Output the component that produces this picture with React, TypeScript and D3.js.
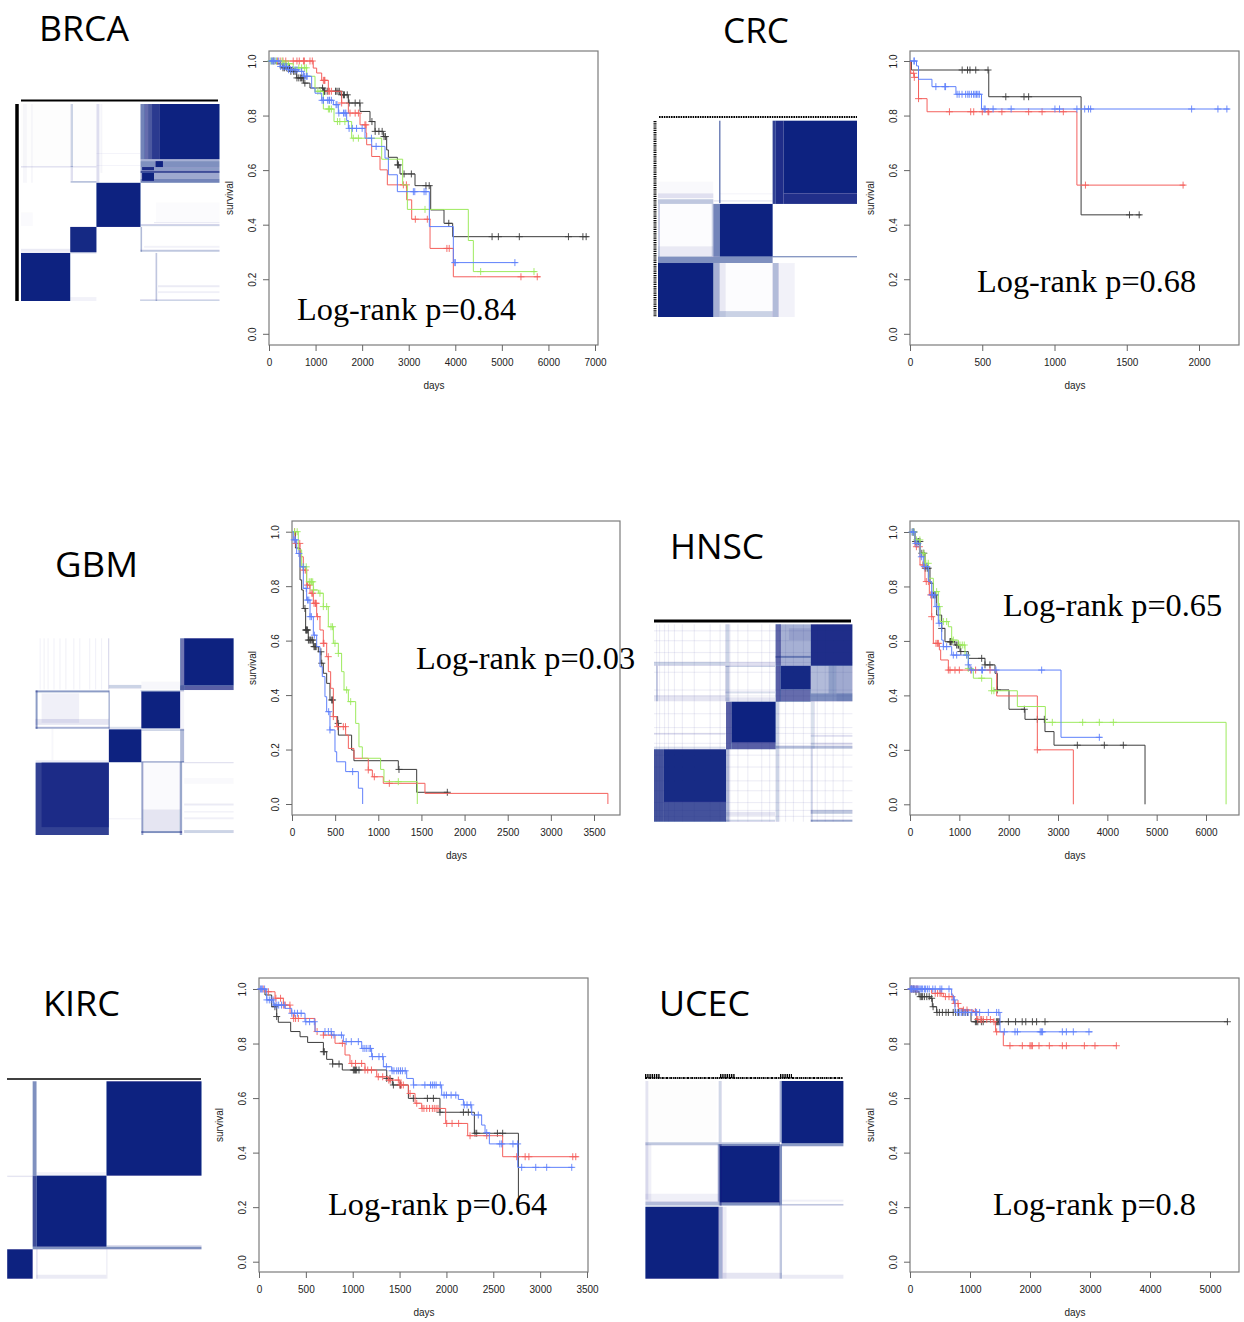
import React, { useEffect, useRef } from 'react';
import * as d3 from 'd3';

// survival curves: t = days at each step, s = survival after the step, c = censored days

const brcaBlackT = [0, 150, 300, 451, 594, 737, 880, 1167, 1525, 1704, 1954, 2169, 2276, 2455, 2527, 2563, 2756, 2813, 3135, 3472, 3758, 3944, 6864];
const brcaBlackS = [1, .99, .975, .962, .938, .919, .901, .889, .876, .846, .815, .778, .742, .723, .674, .647, .619, .586, .543, .454, .405, .356, .356];
const brcaBlackC = [250, 300, 330, 380, 420, 440, 470, 530, 560, 600, 640, 680, 700, 730, 770, 1150, 1170, 1190, 1200, 1250, 1430, 1440, 1480, 1510, 1560, 1600, 1620, 1680, 1720, 1850, 1950, 2210, 2280, 2360, 2430, 2470, 2500, 2760, 2780, 2900, 3057, 3370, 3440, 3860, 4790, 4925, 5375, 6430, 6740, 6810];
const brcaRedT = [0, 950, 1023, 1131, 1274, 1560, 1704, 1954, 2083, 2097, 2205, 2384, 2541, 2956, 3064, 3458, 3958, 4460, 5825];
const brcaRedS = [1, .974, .956, .929, .889, .846, .809, .766, .736, .693, .65, .601, .546, .491, .42, .313, .209, .209, .209];
const brcaRedC = [100, 180, 240, 300, 360, 520, 600, 650, 740, 760, 880, 930, 1167, 1190, 1200, 1274, 1300, 1340, 1560, 1740, 1850, 1920, 2060, 2080, 2885, 2950, 3142, 3400, 3820, 3870, 5410, 5760];
const brcaGreenT = [0, 300, 520, 809, 988, 1167, 1396, 1775, 2420, 2870, 2971, 4280, 4388, 5740];
const brcaGreenS = [1, .99, .975, .944, .889, .824, .778, .717, .64, .546, .456, .342, .228, .228];
const brcaGreenC = [40, 70, 110, 160, 280, 320, 340, 380, 420, 640, 700, 760, 800, 1050, 1100, 1275, 1300, 1340, 1470, 1520, 1630, 1810, 1920, 3350, 4545, 5690];
const brcaBlueT = [0, 236, 415, 630, 737, 916, 988, 1131, 1382, 1489, 1668, 1704, 2062, 2205, 2491, 2563, 2756, 3443, 3958, 5333];
const brcaBlueS = [1, .98, .968, .962, .944, .901, .882, .856, .84, .809, .782, .753, .717, .687, .644, .583, .521, .393, .261, .261];
const brcaBlueC = [50, 80, 100, 130, 200, 250, 300, 320, 360, 380, 420, 460, 500, 560, 600, 700, 760, 800, 820, 1140, 1170, 1260, 1290, 1300, 1340, 1440, 1460, 1500, 1600, 1630, 1650, 1720, 1790, 1880, 2000, 2200, 2300, 3100, 3130, 3330, 3370, 3990, 4000, 5280];

const crcBlackT = [0, 10, 545, 1184, 1601];
const crcBlackS = [1, .967, .869, .436, .436];
const crcBlackC = [361, 398, 415, 455, 540, 663, 789, 821, 1519, 1586];
const crcRedT = [0, 5, 30, 59, 118, 1155, 1904];
const crcRedS = [1, .955, .94, .862, .814, .545, .545];
const crcRedC = [25, 30, 59, 273, 420, 441, 500, 540, 545, 636, 821, 914, 1061, 1214, 1890];
const crcBlueT = [0, 45, 59, 152, 318, 495, 2211];
const crcBlueS = [1, .982, .933, .906, .878, .824, .824];
const crcBlueC = [27, 30, 179, 241, 246, 326, 340, 360, 385, 400, 410, 425, 440, 450, 460, 470, 480, 513, 520, 575, 700, 1003, 1035, 1155, 1209, 1235, 1250, 1949, 2131, 2193];

const gbmBlackT = [0, 40, 93, 112, 131, 158, 189, 247, 305, 336, 363, 402, 440, 479, 529, 537, 691, 718, 1232, 1445, 1811];
const gbmBlackS = [1, .94, .823, .786, .718, .639, .602, .578, .559, .517, .48, .443, .382, .321, .296, .253, .198, .159, .127, .043, .043];
const gbmBlackC = [150, 160, 165, 170, 180, 190, 200, 215, 230, 240, 255, 265, 270, 280, 335, 345, 460, 470, 535, 1240, 1800];
const gbmRedT = [0, 35, 93, 131, 170, 209, 247, 286, 324, 363, 402, 421, 448, 479, 518, 622, 653, 718, 884, 931, 1058, 1541, 3661, 3661];
const gbmRedS = [1, .957, .908, .859, .804, .774, .737, .688, .639, .59, .541, .486, .425, .321, .284, .253, .204, .168, .125, .1, .076, .039, .039, 0];
const gbmRedC = [30, 45, 90, 135, 155, 180, 205, 230, 240, 255, 270, 275, 280, 295, 363, 370, 420, 479, 529, 595, 620, 884, 954, 1128];
const gbmGreenT = [0, 73, 112, 170, 247, 305, 363, 421, 479, 537, 575, 603, 653, 738, 776, 815, 1027, 1066, 1452, 1452];
const gbmGreenS = [1, .933, .871, .816, .786, .774, .725, .651, .59, .553, .486, .419, .376, .296, .21, .168, .127, .082, .082, 0];
const gbmGreenC = [30, 60, 135, 165, 200, 220, 225, 240, 250, 324, 363, 402, 452, 470, 498, 537, 633, 680, 1232];
const gbmBlueT = [0, 15, 54, 93, 131, 170, 209, 247, 286, 324, 351, 382, 402, 440, 498, 518, 622, 769, 819, 819];
const gbmBlueS = [1, .97, .92, .871, .792, .749, .688, .62, .578, .504, .468, .394, .339, .272, .192, .155, .119, .058, .058, 0];
const gbmBlueC = [25, 40, 80, 130, 165, 180, 195, 209, 225, 260, 425, 440, 703];

const hnscBlackT = [0, 101, 203, 304, 405, 473, 541, 642, 709, 912, 1014, 1182, 1520, 1723, 1770, 2007, 2331, 2736, 2919, 4764, 4764];
const hnscBlackS = [1, .965, .922, .867, .812, .769, .695, .646, .597, .585, .561, .536, .512, .481, .42, .349, .312, .267, .217, .217, 0];
const hnscBlackC = [60, 80, 110, 140, 170, 200, 240, 280, 310, 350, 370, 480, 510, 642, 810, 820, 830, 850, 946, 975, 985, 1030, 1453, 1520, 1620, 1770, 2318, 2581, 2723, 3392, 3939, 4324];
const hnscRedT = [0, 101, 203, 304, 392, 439, 473, 595, 622, 777, 1757, 2581, 3311, 3311];
const hnscRedS = [1, .946, .879, .818, .769, .689, .591, .567, .53, .493, .398, .2, .2, 0];
const hnscRedC = [60, 130, 190, 260, 330, 372, 420, 440, 527, 555, 575, 777, 811, 912, 1000, 1230, 1330, 1622, 2581];
const hnscGreenT = [0, 101, 203, 304, 372, 473, 574, 608, 777, 845, 980, 1115, 1182, 1284, 1655, 2176, 2743, 6407, 6407];
const hnscGreenS = [1, .971, .922, .885, .83, .781, .726, .671, .652, .603, .585, .548, .499, .463, .417, .359, .301, .301, 0];
const hnscGreenC = [50, 80, 130, 200, 270, 320, 370, 540, 595, 676, 743, 878, 1014, 1060, 1100, 1150, 1182, 1453, 1655, 1700, 2885, 3500, 3838, 4122];
const hnscBlueT = [0, 101, 203, 270, 372, 439, 507, 574, 642, 676, 845, 1182, 1216, 3061, 3885];
const hnscBlueS = [1, .958, .909, .873, .818, .769, .726, .665, .603, .579, .548, .512, .493, .246, .246];
const hnscBlueC = [40, 70, 120, 160, 230, 290, 340, 440, 460, 500, 540, 590, 676, 743, 878, 946, 1149, 1182, 1250, 1453, 1470, 1743, 2669, 3838];

const kircBlackT = [0, 64, 135, 189, 206, 338, 438, 519, 687, 722, 786, 889, 1363, 1423, 1594, 1931, 2298, 2768, 2768];
const kircBlackS = [1, .978, .935, .899, .878, .844, .825, .804, .77, .742, .725, .703, .672, .648, .599, .548, .471, .471, .238];
const kircBlackC = [170, 189, 687, 697, 786, 854, 1007, 1020, 1030, 1042, 1067, 1363, 1398, 1434, 1505, 1510, 1647, 1797, 1861, 1931, 2181, 2234, 2305, 2323, 2544, 2600];
const kircRedT = [0, 64, 171, 260, 331, 366, 598, 687, 811, 918, 971, 1131, 1256, 1380, 1505, 1594, 1665, 1736, 1992, 2227, 2600, 3408];
const kircRedS = [1, .99, .966, .941, .911, .892, .844, .831, .801, .758, .727, .703, .678, .666, .648, .617, .581, .562, .507, .462, .385, .385];
const kircRedC = [45, 100, 180, 230, 260, 280, 330, 370, 390, 420, 620, 687, 775, 890, 990, 1030, 1095, 1131, 1160, 1200, 1273, 1320, 1385, 1400, 1487, 1505, 1520, 1540, 1612, 1683, 1740, 1760, 1790, 1820, 1850, 1870, 1890, 1910, 2003, 2060, 2130, 2252, 2430, 2750, 2840, 2880, 3348, 3380];
const kircBlueT = [0, 82, 153, 277, 349, 491, 598, 775, 900, 1096, 1202, 1327, 1416, 1576, 1647, 1949, 2127, 2181, 2270, 2376, 2412, 2458, 2761, 3355];
const kircBlueS = [1, .96, .941, .929, .911, .88, .844, .831, .807, .782, .752, .715, .7, .672, .648, .611, .595, .575, .538, .501, .473, .432, .346, .346];
const kircBlueC = [15, 25, 35, 60, 85, 110, 130, 150, 170, 190, 210, 240, 270, 350, 380, 410, 450, 500, 540, 590, 704, 740, 770, 800, 880, 930, 985, 1060, 1110, 1130, 1150, 1175, 1190, 1210, 1280, 1320, 1360, 1420, 1440, 1470, 1490, 1510, 1530, 1560, 1650, 1770, 1830, 1850, 1870, 1890, 1935, 1975, 2000, 2050, 2100, 2190, 2220, 2260, 2340, 2430, 2570, 2590, 2710, 2760, 2803, 2953, 3070, 3337];

const ucecBlackT = [0, 83, 150, 333, 372, 444, 1017, 5300];
const ucecBlackS = [1, .99, .972, .966, .935, .914, .88, .88];
const ucecBlackC = [30, 60, 100, 170, 190, 210, 240, 280, 320, 361, 385, 450, 490, 540, 600, 640, 720, 760, 810, 880, 920, 960, 1090, 1110, 1130, 1190, 1220, 1440, 1460, 1480, 1490, 1640, 1760, 1870, 1930, 2040, 2110, 2250, 5290];
const ucecRedT = [0, 361, 555, 722, 805, 888, 1055, 1111, 1388, 1427, 1555, 3444];
const ucecRedS = [1, .984, .972, .947, .929, .923, .917, .888, .88, .843, .792, .792];
const ucecRedC = [20, 50, 80, 110, 130, 420, 460, 500, 520, 590, 650, 700, 750, 800, 890, 950, 1090, 1130, 1170, 1190, 1220, 1280, 1340, 1400, 1444, 1666, 1872, 2000, 2020, 2040, 2150, 2322, 2539, 2606, 2906, 3083, 3439];
const ucecBlueT = [0, 694, 722, 750, 956, 1500, 3039];
const ucecBlueS = [1, .978, .96, .914, .914, .843, .843];
const ucecBlueC = [10, 25, 35, 50, 65, 80, 100, 115, 130, 150, 170, 190, 210, 240, 260, 290, 320, 380, 420, 500, 530, 650, 740, 790, 830, 860, 900, 930, 970, 1030, 1090, 1110, 1160, 1306, 1444, 1480, 1572, 1750, 1790, 2170, 2190, 2210, 2539, 2606, 2722, 2983];

// consensus matrices: [from sample, to sample, from sample, to sample, consensus], samples in percent
const brcaCells = [
  [0, 38, 0, 31.5, .008], [1, 3, 0, 40, .03], [5, 6, 0, 40, .03], [25, 26.2, 0, 32, .2], [38, 39.5, 0, 40, .13], [40, 41, 0, 35, .04],
  [0, 38, 31.6, 32.2, .15], [25, 26.2, 31.5, 39, .12], [25, 38, 39.2, 39.9, .35], [38, 60, 25, 25.4, .06], [38, 60, 31, 31.4, .06],
  [60.2, 62, 0, 28, .55], [62, 64, 0, 28, .65], [64, 66, 0, 28, .75], [66, 70, 0, 28, .88], [70, 100, 0, 28, 1],
  [60.2, 100, 28, 29, .35], [60.2, 100, 29, 32, .5], [60.2, 100, 32, 34, .45], [60.2, 100, 34, 35, .8], [60.2, 100, 35, 38, .38], [60.2, 100, 38, 40, .55],
  [61, 67, 35, 39, 1], [61, 67, 32, 33.6, .9], [67.8, 71.5, 29, 32, 1],
  [0, 24.8, 75.6, 100, 1], [24.8, 38, 62.4, 75.3, .97], [38, 60.2, 40, 62.4, 1],
  [60.2, 61, 62.4, 75, .3], [60.2, 100, 74, 75, .25], [60.2, 100, 61, 62, .2], [62, 100, 72, 73, .05], [67, 100, 60, 60.5, .1], [68, 100, 50, 60, .015],
  [0, 24.8, 73.5, 75, .08], [24.8, 38, 75.5, 76, .1], [67.8, 68.6, 75.6, 100, .25], [69, 100, 92, 93, .08], [69, 100, 95, 96, .06], [60, 100, 99.2, 100, .2],
  [24.8, 38, 98, 100, .05], [0, 6, 55, 62, .02],
];
const crcCells = [
  [0, 27.8, 31, 37, .025], [0, 27.8, 37, 39.5, .12], [0, 27.8, 40, 42.4, .25], [30.7, 31.4, 0, 42, .6], [31, 57.6, 37, 37.5, .05], [28, 57.6, 40.5, 41.2, .1],
  [57.6, 59, 0, 42.4, .85], [59, 63, 0, 42.4, .93], [63, 100, 0, 37, 1], [63, 100, 37, 42.4, .92], [27.8, 31, 42.4, 69.2, .55], [31, 57.6, 42.4, 69.2, 1],
  [0, 57.6, 69.2, 72.5, .5], [57.6, 100, 69, 69.6, .55], [0, 27.8, 72.5, 100, 1], [27.8, 31, 72.5, 100, .35], [31, 57.6, 72.5, 100, .012], [31, 57.6, 97, 100, .2],
  [31, 34, 72.5, 100, .08], [57.6, 60.6, 72.5, 100, .3], [60.6, 68.7, 72.5, 100, .05], [0, 27.8, 42.4, 69.2, .012], [0, 27.8, 64, 69.2, .08], [0, 1, 42.4, 69.2, .2], [27, 27.8, 42.4, 69, .2],
];
const gbmStripes = [2, 4, 6, 9, 12, 15, 19, 22, 27, 30, 33];
const gbmCells = [
  ...gbmStripes.map(x => [x, x + .6, 0, 26, .05]),
  [36.6, 37.2, 0, 26, .15],
  [0, 37, 26.5, 27.5, .45], [0, 1, 26.5, 46, .45], [36.8, 37.5, 26.5, 46, .35], [0, 37, 45, 46, .35], [3, 22, 28, 43, .06], [0, 37, 41, 44, .1],
  [37, 53.4, 23.7, 25.5, .2], [53.4, 73, 22, 26, .03], [73, 75, 0, 26.3, .6], [75, 100, 0, 24, 1], [75, 100, 24, 26.3, .7], [73, 75, 24, 27, .3],
  [53.4, 73, 27, 45.8, 1], [53, 73, 26.3, 27, .2], [73, 75, 27, 46, .04], [37, 53.4, 45, 46, .15], [37, 53.4, 46.3, 63, 1], [53.4, 75, 46.3, 47, .25],
  [53.4, 75, 62.5, 63.2, .4], [73, 75, 46, 63, .3], [0, 37, 62, 63, .08], [8, 9, 46, 62, .03], [0, 37, 63.2, 100, .85], [3, 37, 63.2, 96, .6],
  [53.4, 54.4, 63, 100, .4], [72.8, 74, 63, 100, .4], [53.4, 74, 98, 99, .5], [54, 73, 87, 98, .1], [54, 73, 63, 87, .02], [75, 100, 63, 63.5, .15],
  [75, 100, 71, 74, .025], [75, 100, 84, 85, .08], [75, 100, 88, 88.5, .08], [75, 100, 91, 92, .06], [75, 100, 97.5, 99, .2], [37, 53.4, 91.5, 92, .06],
];
const hnscStripesX = [1, 2.5, 5, 7, 10, 14, 20, 28, 33, 38, 42, 47, 54, 58, 63, 66, 70, 75, 82, 86, 90, 95];
const hnscStripesY = [3, 8, 14, 19, 24, 33, 36, 45, 52, 55, 60, 66, 72, 79, 84, 90, 94, 97];
const hnscCells = [
  ...hnscStripesX.map(x => [x, x + .6, 0, 100, .07]),
  ...hnscStripesY.map(y => [0, 100, y, y + .6, .07]),
  [0, 36, 19, 21, .2], [36, 38, 0, 21, .2], [38, 61, 19, 21, .12], [61.3, 79, 0, 21, .35], [61.3, 64, 0, 21, .5], [68, 79, 2, 8, .1], [61.3, 79, 16, 17, .4],
  [79, 100, 0, 21, .93], [36, 38, 21, 39, .25], [36, 61, 21, 21.5, .3], [36, 61, 34, 35, .15], [36, 61, 37, 39, .1], [0, 36, 36, 39, .1], [1, 2, 21, 39, .2],
  [61.3, 64, 21, 39.2, .7], [64, 79, 21, 33, .97], [64, 79, 33, 39.2, .65], [79, 100, 21, 39, .3], [88, 92, 21, 35, .2], [92, 100, 21, 39, .1], [79, 100, 35, 39, .3],
  [0, 36, 55, 56, .1], [0, 36, 62, 63, .15], [36.3, 39, 39.2, 63.3, .7], [39, 61.3, 39.2, 60, 1], [39, 61.3, 60, 63.3, .7], [61.3, 63, 39, 63, .2],
  [79, 81, 39, 63, .15], [79, 100, 56, 57, .12], [79, 100, 60, 61, .15], [61.3, 100, 61.5, 63, .3],
  [0, 5, 63.3, 100, .78], [5, 36.3, 63.3, 90, .96], [5, 36.3, 90, 100, .78],
  [36.3, 38, 63, 100, .3], [36.3, 61, 95, 97, .1], [61.3, 63, 63, 100, .2], [79, 80, 63, 100, .2], [79, 100, 94, 96, .25], [79, 100, 99, 100, .4], [36, 61, 99, 100, .2],
];
const kircCells = [
  [51.1, 100, 0, 47.8, 1], [15.1, 51.1, 47.8, 83.8, 1], [0, 13.1, 85.1, 100, 1], [13.1, 15.1, 0, 47.8, .5], [13.1, 15.1, 47.8, 83.8, .8],
  [13.1, 100, 83.8, 85.1, .5], [0, 13.1, 47.8, 48.5, .1], [15, 51, 46, 47.8, .05], [15, 51, 98, 100, .08], [15, 15.6, 85, 100, .15], [51, 51.6, 85, 100, .08], [51, 100, 83, 83.8, .15],
];
const ucecCells = [
  [0, 36, 0, 31, .008], [0, 1.5, 0, 60, .1], [37, 38.5, 0, 31, .18], [0, 68, 31, 32.5, .25], [67.8, 68.8, 0, 31, .35],
  [68.8, 100, 0, 31.5, 1], [68.8, 100, 31.5, 33, .45], [0, 37, 57, 61, .06], [0, 3, 32, 61, .06], [0, 37, 61, 63, .3], [36.5, 37.6, 32, 61, .3],
  [37.6, 67.8, 32.9, 61.4, 1], [37, 38.5, 32, 63, .5], [37.6, 68, 32, 33, .5], [37.6, 68, 61, 63, .5], [67.8, 69, 32, 63, .5],
  [69, 100, 60, 61, .06], [69, 100, 62.2, 63, .25], [0, 37, 63.6, 100, 1], [37, 39, 63.6, 100, .35], [39, 41, 63.6, 100, .07],
  [67.8, 69, 63, 100, .25], [39, 69, 97, 100, .1], [69, 100, 98, 100, .08],
];

const survivalTicks = [0, .2, .4, .6, .8, 1];
const brcaDays = [0, 1000, 2000, 3000, 4000, 5000, 6000, 7000];
const crcDays = [0, 500, 1000, 1500, 2000];
const gbmDays = [0, 500, 1000, 1500, 2000, 2500, 3000, 3500];
const hnscDays = [0, 1000, 2000, 3000, 4000, 5000, 6000];
const kircDays = [0, 500, 1000, 1500, 2000, 2500, 3000, 3500];
const ucecDays = [0, 1000, 2000, 3000, 4000, 5000];

const COLORS = { black: '#3c3c3c', red: '#f4605c', green: '#9dea5e', blue: '#5f80fb' };
const NAVY = '#0b2080';

// one entry per cancer type, layout in page pixels
const panels = [
  {
    title: 'BRCA', titleX: 39, titleY: 41, titleW: 90, logrank: 'Log-rank p=0.84', lrX: 297, lrY: 320,
    box: [269, 598, 51, 345], x0: 269, xEnd: 595, y1: 61, y0: 333.8, days: brcaDays,
    heat: [21, 219.5, 104, 301], cells: brcaCells,
    bars: [{ x1: 21, x2: 218, y1: 100.5, y2: 100.5, w: 2 }, { x1: 17, x2: 17, y1: 104, y2: 301, w: 3.5 }],
    curves: [
      [brcaBlackT, brcaBlackS, brcaBlackC, COLORS.black], [brcaRedT, brcaRedS, brcaRedC, COLORS.red],
      [brcaGreenT, brcaGreenS, brcaGreenC, COLORS.green], [brcaBlueT, brcaBlueS, brcaBlueC, COLORS.blue],
    ],
  },
  {
    title: 'CRC', titleX: 723, titleY: 43, titleW: 66, logrank: 'Log-rank p=0.68', lrX: 977, lrY: 292,
    box: [910, 1239, 51, 345], x0: 910, xEnd: 1199, y1: 61, y0: 333.8, days: crcDays,
    heat: [658, 857, 120.7, 317], cells: crcCells,
    bars: [{ x1: 659, x2: 857, y1: 117, y2: 117, w: 2, dash: '1.6 .8' }, { x1: 655, x2: 655, y1: 121, y2: 317, w: 3, dash: '1.2 1' }],
    curves: [[crcBlackT, crcBlackS, crcBlackC, COLORS.black], [crcRedT, crcRedS, crcRedC, COLORS.red], [crcBlueT, crcBlueS, crcBlueC, COLORS.blue]],
  },
  {
    title: 'GBM', titleX: 55, titleY: 577, titleW: 83, logrank: 'Log-rank p=0.03', lrX: 416, lrY: 669,
    box: [292, 620, 521, 815], x0: 292, xEnd: 594, y1: 531.7, y0: 804, days: gbmDays,
    heat: [35.6, 233.6, 638.3, 835], cells: gbmCells,
    bars: [],
    curves: [
      [gbmBlackT, gbmBlackS, gbmBlackC, COLORS.black], [gbmRedT, gbmRedS, gbmRedC, COLORS.red],
      [gbmGreenT, gbmGreenS, gbmGreenC, COLORS.green], [gbmBlueT, gbmBlueS, gbmBlueC, COLORS.blue],
    ],
  },
  {
    title: 'HNSC', titleX: 670, titleY: 559, titleW: 94, logrank: 'Log-rank p=0.65', lrX: 1003, lrY: 616,
    box: [910, 1239, 521, 815], x0: 910, xEnd: 1206, y1: 532, y0: 804.3, days: hnscDays,
    heat: [654, 852.4, 624.3, 821.7], cells: hnscCells,
    bars: [{ x1: 654, x2: 851, y1: 621, y2: 621, w: 3 }],
    curves: [
      [hnscBlackT, hnscBlackS, hnscBlackC, COLORS.black], [hnscRedT, hnscRedS, hnscRedC, COLORS.red],
      [hnscGreenT, hnscGreenS, hnscGreenC, COLORS.green], [hnscBlueT, hnscBlueS, hnscBlueC, COLORS.blue],
    ],
  },
  {
    title: 'KIRC', titleX: 43, titleY: 1016, titleW: 77, logrank: 'Log-rank p=0.64', lrX: 328, lrY: 1215,
    box: [259, 588, 978, 1272], x0: 259, xEnd: 587, y1: 989, y0: 1261.7, days: kircDays,
    heat: [7.2, 201.5, 1081.3, 1278.7], cells: kircCells,
    bars: [{ x1: 7, x2: 201, y1: 1079, y2: 1079, w: 1.5 }],
    curves: [[kircBlackT, kircBlackS, kircBlackC, COLORS.black], [kircRedT, kircRedS, kircRedC, COLORS.red], [kircBlueT, kircBlueS, kircBlueC, COLORS.blue]],
  },
  {
    title: 'UCEC', titleX: 659, titleY: 1016, titleW: 91, logrank: 'Log-rank p=0.8', lrX: 993, lrY: 1215,
    box: [910, 1239, 978, 1272], x0: 910, xEnd: 1210, y1: 989, y0: 1261.7, days: ucecDays,
    heat: [645.4, 843.4, 1081, 1278.7], cells: ucecCells,
    bars: [
      { x1: 645, x2: 843, y1: 1078, y2: 1078, w: 2, dash: '2 .7 1 .5' },
      { x1: 645, x2: 660, y1: 1076, y2: 1076, w: 4, dash: '1.4 .8' },
      { x1: 720, x2: 735, y1: 1076, y2: 1076, w: 4, dash: '1.4 .8' },
      { x1: 780, x2: 792, y1: 1076, y2: 1076, w: 4, dash: '1.4 .8' },
    ],
    curves: [[ucecBlackT, ucecBlackS, ucecBlackC, COLORS.black], [ucecRedT, ucecRedS, ucecRedC, COLORS.red], [ucecBlueT, ucecBlueS, ucecBlueC, COLORS.blue]],
  },
];

function drawHeatmap(svg, p) {
  const [left, right, top, bottom] = p.heat;
  const x = d3.scaleLinear().domain([0, 100]).range([left, right]);
  const y = d3.scaleLinear().domain([0, 100]).range([top, bottom]);

  svg.append('g')
    .attr('filter', 'url(#soft)')
    .selectAll('rect')
    .data(p.cells)
    .enter().append('rect')
    .attr('x', d => x(d[0]))
    .attr('width', d => x(d[1]) - x(d[0]))
    .attr('y', d => y(d[2]))
    .attr('height', d => y(d[3]) - y(d[2]))
    .attr('fill', NAVY)
    .attr('fill-opacity', d => d[4]);

  svg.append('g')
    .selectAll('line')
    .data(p.bars)
    .enter().append('line')
    .attr('x1', d => d.x1)
    .attr('x2', d => d.x2)
    .attr('y1', d => d.y1)
    .attr('y2', d => d.y2)
    .attr('stroke', '#000')
    .attr('stroke-width', d => d.w)
    .attr('stroke-dasharray', d => d.dash || null);
}

function drawSurvival(svg, p) {
  const [left, right, top, bottom] = p.box;
  const x = d3.scaleLinear().domain([0, d3.max(p.days)]).range([p.x0, p.xEnd]);
  const y = d3.scaleLinear().domain([0, 1]).range([p.y0, p.y1]);

  svg.append('rect')
    .attr('x', left)
    .attr('y', top)
    .attr('width', right - left)
    .attr('height', bottom - top)
    .attr('fill', 'none')
    .attr('stroke', '#7c7c7c')
    .attr('stroke-width', 1.2);

  const xAxis = svg.append('g')
    .attr('transform', `translate(0,${bottom})`)
    .call(d3.axisBottom(x).tickValues(p.days).tickFormat(d3.format('d')).tickSize(6).tickPadding(8));
  const yAxis = svg.append('g')
    .attr('transform', `translate(${left},0)`)
    .call(d3.axisLeft(y).tickValues(survivalTicks).tickFormat(d3.format('.1f')).tickSize(6));

  for (const axis of [xAxis, yAxis]) {
    axis.select('.domain').remove();
    axis.selectAll('line').attr('stroke', '#666');
    axis.selectAll('text')
      .attr('font-family', 'Liberation Sans')
      .attr('font-size', 10)
      .attr('fill', '#222');
  }
  yAxis.selectAll('text')
    .attr('x', 0)
    .attr('dy', 0)
    .attr('text-anchor', 'middle')
    .attr('transform', 'translate(-13,0) rotate(-90)');

  const line = d3.line()
    .x(d => x(d[0]))
    .y(d => y(d[1]))
    .curve(d3.curveStepAfter);

  const plot = svg.append('g').attr('filter', 'url(#soft)');

  p.curves.forEach(([times, surv, censored, color]) => {
    plot.append('path')
      .attr('d', line(times.map((t, i) => [t, surv[i]])))
      .attr('fill', 'none')
      .attr('stroke', color)
      .attr('stroke-width', 1);

    // censoring marks sit on the curve
    const marks = d3.path();
    censored.forEach(t => {
      const s = surv[d3.bisectRight(times, t) - 1];
      marks.moveTo(x(t) - 3.5, y(s));
      marks.lineTo(x(t) + 3.5, y(s));
      marks.moveTo(x(t), y(s) - 3.5);
      marks.lineTo(x(t), y(s) + 3.5);
    });
    plot.append('path')
      .attr('d', marks.toString())
      .attr('fill', 'none')
      .attr('stroke', color)
      .attr('stroke-width', .9);
  });

  svg.append('text')
    .attr('x', (left + right) / 2 + 0.5)
    .attr('y', bottom + 44)
    .attr('text-anchor', 'middle')
    .attr('font-family', 'Liberation Sans')
    .attr('font-size', 10)
    .attr('fill', '#222')
    .text('days');

  svg.append('text')
    .attr('transform', `translate(${left - 36},${(top + bottom) / 2}) rotate(-90)`)
    .attr('text-anchor', 'middle')
    .attr('font-family', 'Liberation Sans')
    .attr('font-size', 10)
    .attr('fill', '#222')
    .text('survival');

  svg.append('text')
    .attr('x', p.lrX)
    .attr('y', p.lrY)
    .attr('font-family', 'Liberation Serif')
    .attr('font-size', 32.3)
    .attr('fill', '#000')
    .text(p.logrank);

  svg.append('text')
    .attr('x', p.titleX)
    .attr('y', p.titleY)
    .attr('font-family', 'Open Sans')
    .attr('font-size', 34)
    .attr('textLength', p.titleW)
    .attr('lengthAdjust', 'spacingAndGlyphs')
    .attr('fill', '#000')
    .text(p.title);
}

export default function App() {
  const ref = useRef(null);

  useEffect(() => {
    const svg = d3.select(ref.current);
    svg.selectAll('*').remove();
    svg.append('defs').append('filter')
      .attr('id', 'soft')
      .attr('filterUnits', 'userSpaceOnUse')
      .attr('x', 0)
      .attr('y', 0)
      .attr('width', 1244)
      .attr('height', 1322)
      .append('feGaussianBlur')
      .attr('stdDeviation', 0.35);
    panels.forEach(p => {
      drawHeatmap(svg, p);
      drawSurvival(svg, p);
    });
  }, []);

  return <svg ref={ref} width={1244} height={1322} style={{ position: 'absolute', left: 0, top: 0, display: 'block', background: '#fff' }} />;
}
